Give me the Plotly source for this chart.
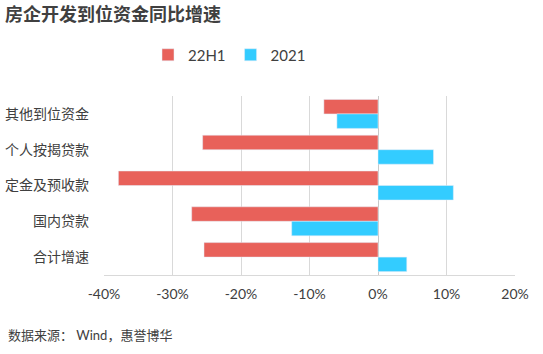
import plotly.graph_objects as go

categories = ["其他到位资金", "个人按揭贷款", "定金及预收款", "国内贷款", "合计增速"]
h1_22 = [-7.9, -25.6, -37.9, -27.2, -25.4]
y2021 = [-6.0, 8.1, 11.0, -12.6, 4.2]
tick_vals = [-40, -30, -20, -10, 0, 10, 20]
tick_text = ["-40%", "-30%", "-20%", "-10%", "0%", "10%", "20%"]

FONT = "Lato, 'Noto Sans CJK SC', sans-serif"
CJK = "'Noto Sans CJK SC', sans-serif"

fig = go.Figure()
fig.add_trace(go.Bar(y=categories, x=h1_22, orientation="h", name="22H1",
                     marker=dict(color="#E8615A")))
fig.add_trace(go.Bar(y=categories, x=y2021, orientation="h", name="2021",
                     marker=dict(color="#33CCFF")))

fig.update_layout(
    width=543, height=354,
    margin=dict(l=104, r=28, t=96, b=79, autoexpand=False),
    paper_bgcolor="white", plot_bgcolor="white",
    barmode="group", bargap=0.19, bargroupgap=0,
    font=dict(family=FONT, size=13, color="#404040"),
    showlegend=True,
    legend=dict(orientation="h", x=148 / 543, xanchor="left", xref="container",
                y=1 - 55 / 354, yref="container", yanchor="middle",
                font=dict(size=15, color="#404040"),
                itemwidth=30, traceorder="normal"),
    title=dict(text="<b>房企开发到位资金同比增速</b>", x=5 / 543, xanchor="left", xref="container",
               y=1 - 15 / 354, yanchor="middle", yref="container",
               font=dict(size=18, color="#404040", family=CJK)),
    xaxis=dict(range=[-40, 20], tickvals=tick_vals, ticktext=tick_text,
               showgrid=True, gridcolor="#d9d9d9", gridwidth=1,
               zeroline=True, zerolinecolor="#c8c8c8", zerolinewidth=1,
               showline=True, linecolor="#d9d9d9", linewidth=1,
               ticks="", ticklabelstandoff=6, automargin=False,
               tickfont=dict(size=14, color="#404040"), fixedrange=True),
    yaxis=dict(autorange="reversed", showgrid=False, showline=False,
               ticks="", ticklabelstandoff=14, automargin=False,
               tickfont=dict(size=14, color="#404040", family=CJK)),
)

fig.add_annotation(text="数据来源： Wind，惠誉博华", xref="paper", yref="paper",
                   x=-98 / 411, y=-(335 - 275) / 179, xanchor="left", yanchor="middle",
                   showarrow=False, font=dict(size=13, color="#404040", family=FONT))

fig.write_html("out.html")
